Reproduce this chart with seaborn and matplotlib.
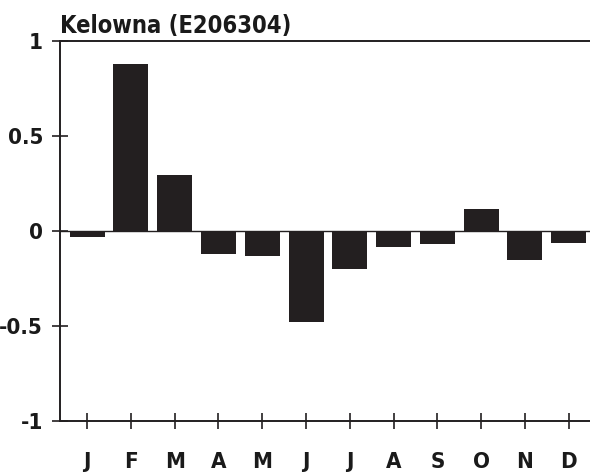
import matplotlib
matplotlib.use("Agg")
import matplotlib.pyplot as plt
import seaborn as sns
import pandas as pd

title = "Kelowna (E206304)"
months = ["Jan", "Feb", "Mar", "Apr", "May", "Jun", "Jul", "Aug", "Sep", "Oct", "Nov", "Dec"]
month_labels = ["J", "F", "M", "A", "M", "J", "J", "A", "S", "O", "N", "D"]
values = [-0.03, 0.88, 0.295, -0.12, -0.13, -0.48, -0.20, -0.085, -0.07, 0.115, -0.15, -0.065]
yticks = [-1, -0.5, 0, 0.5, 1]
ytick_labels = ["-1", "-0.5", "0", "0.5", "1"]

sns.set_style("white")
plt.rcParams['font.family'] = ['DejaVu Sans']
plt.rcParams['font.stretch'] = 'condensed'
plt.rcParams['font.weight'] = 'bold'

df = pd.DataFrame({"month": months, "value": values})

fig = plt.figure(figsize=(5.9, 4.74), dpi=100)
ax = fig.add_axes([60/590, 53/474, 1 - 60/590 + 0.01, (421 - 41)/474])

bar_color = "#231f20"
sns.barplot(data=df, x="month", y="value", order=months, color=bar_color,
            saturation=1, width=0.8, ax=ax, errorbar=None, zorder=2)
for p in ax.patches:
    p.set_edgecolor("none")

ax.axhline(0, color="#231f20", lw=1.0, zorder=3)
ax.set_xlim(-0.62, 11.62)
ax.set_ylim(-1, 1)
ax.set_yticks(yticks)
ax.set_yticklabels(ytick_labels)
ax.set_xticks(range(len(months)))
ax.set_xticklabels(month_labels)
ax.set_xlabel("")
ax.set_ylabel("")

for s in ["left", "bottom", "top"]:
    ax.spines[s].set_visible(True)
    ax.spines[s].set_color("#231f20")
    ax.spines[s].set_linewidth(1.4)
ax.spines["right"].set_visible(False)

ax.tick_params(axis="both", direction="inout", length=11.5, width=1.2,
               color="#231f20", labelsize=16, labelcolor="#1a1a1a",
               bottom=True, left=True, top=False, right=False)
ax.tick_params(axis="x", pad=16.5)
ax.tick_params(axis="y", pad=6.5)
for lbl in ax.get_xticklabels() + ax.get_yticklabels():
    lbl.set_fontweight("bold")
    lbl.set_fontstretch("condensed")

ax.set_title(title, loc="left", fontsize=17, fontweight="bold", fontstretch="condensed",
             pad=5.5, color="#1a1a1a")

fig.savefig("out.png", dpi=100)
